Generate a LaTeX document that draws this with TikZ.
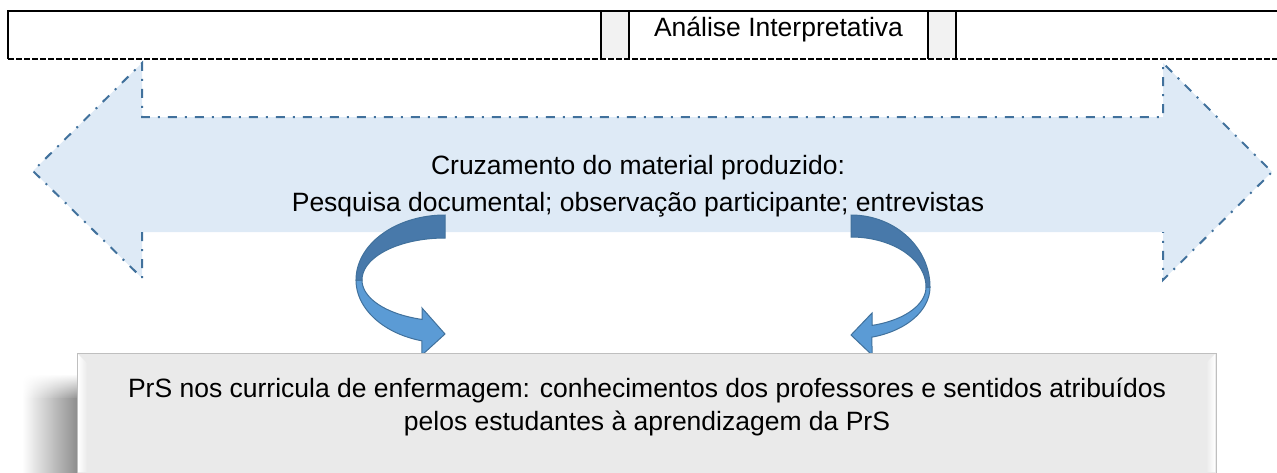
\documentclass[tikz,border=0pt]{standalone}
\usepackage{fontspec}
\setmainfont{Liberation Sans}
\usetikzlibrary{fadings}
\definecolor{arrowfill}{RGB}{222,234,246}
\definecolor{arrowline}{RGB}{65,113,156}
\definecolor{cdark}{RGB}{72,121,170}
\definecolor{clight}{RGB}{91,155,213}
\definecolor{cellgray}{RGB}{242,242,242}
\definecolor{boxfill}{RGB}{234,234,234}
\definecolor{boxline}{RGB}{191,191,191}
\tikzfading[name=fadetop, top color=transparent!100, bottom color=transparent!0]
\begin{document}
\begin{tikzpicture}[x=1pt,y=-1pt,
  txt/.style={font=\fontsize{26.5}{37}\selectfont, inner sep=0pt, align=center, anchor=base},
  tableline/.style={black, line width=2.5},
  bigarrow/.style={arrowline, line width=2, dash pattern=on 9pt off 8pt on 2pt off 8pt, line join=miter},
  backpart/.style={fill=cdark, draw=arrowline, line width=1},
  frontpart/.style={fill=clight, draw=arrowline, line width=1, line join=miter}]
\useasboundingbox (0,0) rectangle (1277,472);

% ---- top table row
\fill[cellgray] (602,12) rectangle (628,58);
\fill[cellgray] (929,12) rectangle (955,58);
\draw[black, line width=1.8, dash pattern=on 6pt off 2pt] (8,59) -- (1277,59);
\draw[tableline, line join=miter] (8,59) -- (8,11) -- (1277,11);
\draw[tableline] (601,11) -- (601,59);
\draw[tableline] (629,11) -- (629,59);
\draw[tableline] (928,11) -- (928,59);
\draw[tableline] (956,11) -- (956,59);
\node[txt] (analise) at (778.5,36) {Análise Interpretativa};

% ---- big double arrow
\fill[arrowfill] (33,171) -- (142,63) -- (142,117) -- (1163,117) -- (1163,63) -- (1272,172)
  -- (1163,280) -- (1163,232) -- (142,232) -- (142,278) -- cycle;
\draw[bigarrow] (142,232) -- (142,278) -- (33,171) -- (142,63) -- (142,117) -- (1163,117)
  -- (1163,63) -- (1272,172) -- (1163,280) -- (1163,232);
\node[txt] (cruz) at (638,211) {Cruzamento do material produzido:\\Pesquisa documental; observação participante; entrevistas};

% ---- left curved arrow
\filldraw[frontpart] plot[domain=180:255, samples=40, variable=\t] ({445+89*cos(\t)},{280-63*sin(\t)})
  -- (422,355) -- (445,334) -- (422,308)
  -- plot[domain=254:180, samples=40, variable=\t] ({445+83*cos(\t)},{280-41*sin(\t)}) -- cycle;
\filldraw[backpart] plot[domain=90:180, samples=40, variable=\t] ({445+89*cos(\t)},{280-65*sin(\t)})
  -- plot[domain=180:90, samples=40, variable=\t] ({445+83*cos(\t)},{280-42*sin(\t)}) -- cycle;

% ---- right curved arrow
\filldraw[frontpart] plot[domain=0:-74.6, samples=40, variable=\t] ({851+79*cos(\t)},{287-52*sin(\t)})
  -- (872,355) -- (851,335) -- (872,313)
  -- plot[domain=-73.7:0, samples=40, variable=\t] ({851+75*cos(\t)},{287-40*sin(\t)}) -- cycle;
\filldraw[backpart] plot[domain=90:0, samples=40, variable=\t] ({851+79*cos(\t)},{287-72*sin(\t)})
  -- plot[domain=0:90, samples=40, variable=\t] ({851+75*cos(\t)},{287-50*sin(\t)}) -- cycle;

% ---- bottom box with shadow and bevel
\shade[left color=white, right color=black!45] (22,398) rectangle (78,472);
\shade[left color=white, right color=black!45, path fading=fadetop] (22,374) rectangle (78,399);
\draw[fill=boxfill, draw=boxline, line width=1] (77,353) rectangle (1216,480);
\shade[left color=white, right color=boxfill] (78,354) -- (87,363) -- (87,472) -- (78,472) -- cycle;
\shade[left color=boxfill, right color=white] (1206,363) -- (1215,354) -- (1215,472) -- (1206,472) -- cycle;
\node[txt, font=\fontsize{26.5}{33}\selectfont] (prs) at (647,430) {PrS nos curricula de enfermagem: conhecimentos dos professores e sentidos atribuídos\\pelos estudantes à aprendizagem da PrS};
\end{tikzpicture}
\end{document}
